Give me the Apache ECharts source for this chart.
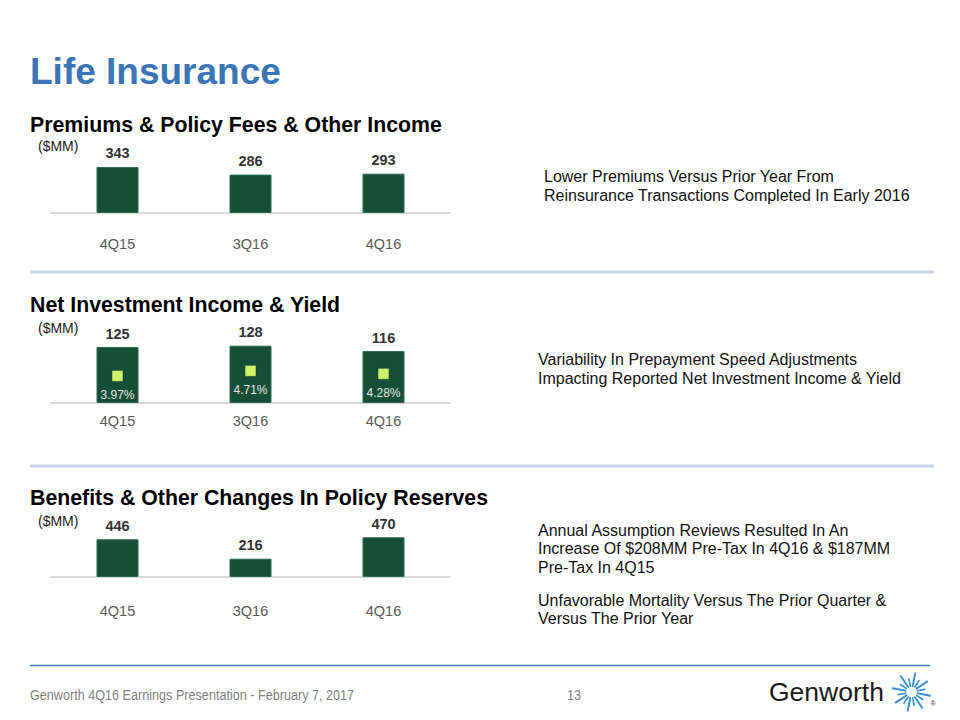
<!DOCTYPE html>
<html>
<head>
<meta charset="utf-8">
<script src="https://cdn.jsdelivr.net/npm/echarts@6/dist/echarts.min.js"></script>
<style>
html,body{margin:0;padding:0;background:#fff;}
#chart{width:960px;height:720px;}
</style>
</head>
<body>
<div id="chart"></div>
<script>
// ---- data ----
var categories = ['4Q15', '3Q16', '4Q16'];
var premiums = [343, 286, 293];
var netInvestment = [125, 128, 116];
var yields = [3.97, 4.71, 4.28];
var benefits = [446, 216, 470];

var pageTitle = 'Life Insurance';
var sectionTitles = ['Premiums & Policy Fees & Other Income', 'Net Investment Income & Yield', 'Benefits & Other Changes In Policy Reserves'];
var unitLabel = '($MM)';
var notes1 = 'Lower Premiums Versus Prior Year From\nReinsurance Transactions Completed In Early 2016';
var notes2 = 'Variability In Prepayment Speed Adjustments\nImpacting Reported Net Investment Income & Yield';
var notes3a = 'Annual Assumption Reviews Resulted In An\nIncrease Of $208MM Pre-Tax In 4Q16 & $187MM\nPre-Tax In 4Q15';
var notes3b = 'Unfavorable Mortality Versus The Prior Quarter &\nVersus The Prior Year';
var footerText = 'Genworth 4Q16 Earnings Presentation - February 7, 2017';
var pageNumber = '13';
var logoText = 'Genworth';

// ---- styles ----
var FONT = '"Liberation Sans", Arial, Helvetica, sans-serif';
var GREEN = '#164f39';
var LIME = '#d0f26a';

var chart = echarts.init(document.getElementById('chart'), null, {renderer: 'svg'});

function xAxisFor(gi, margin) {
  return {
    type: 'category', gridIndex: gi, data: categories,
    axisLine: {show: true, lineStyle: {color: '#d9d9d9', width: 2}},
    axisTick: {show: false},
    axisLabel: {color: '#595959', fontSize: 14.5, fontFamily: FONT, margin: margin}
  };
}
function yAxisFor(gi, max) {
  return {type: 'value', gridIndex: gi, min: 0, max: max, show: false, splitLine: {show: false}};
}
function barSeries(xi, yi, data) {
  return {
    type: 'bar', xAxisIndex: xi, yAxisIndex: yi, data: data, barWidth: 42,
    itemStyle: {color: GREEN, borderColor: '#2c6a50', borderWidth: 1},
    label: {show: true, position: 'top', distance: 6, color: '#333333', fontSize: 14.5, fontWeight: 'bold', fontFamily: FONT},
    silent: true, animation: false
  };
}

function txt(x, y, text, size, opts) {
  opts = opts || {};
  return {
    type: 'text', x: x, y: y, scaleX: opts.sx || 1, silent: true,
    style: {
      x: 0, y: 0,
      text: text, fill: opts.fill || '#000', fontSize: size,
      fontWeight: opts.weight || 'normal', fontFamily: opts.family || FONT,
      verticalAlign: opts.va || 'middle', align: opts.align || 'left',
      lineHeight: opts.lh || undefined
    }
  };
}

var graphics = [];
graphics.push(txt(30, 71, pageTitle, 37, {fill: '#3a75b7', weight: 'bold'}));
graphics.push(txt(30, 125, sectionTitles[0], 21.3, {weight: 'bold'}));
graphics.push(txt(30, 305, sectionTitles[1], 21.3, {weight: 'bold'}));
graphics.push(txt(30, 498, sectionTitles[2], 21.3, {weight: 'bold'}));
graphics.push(txt(38, 146, unitLabel, 14, {fill: '#1a1a1a'}));
graphics.push(txt(38, 328, unitLabel, 14, {fill: '#1a1a1a'}));
graphics.push(txt(38, 521, unitLabel, 14, {fill: '#1a1a1a'}));
graphics.push(txt(544, 167, notes1, 16, {fill: '#111', va: 'top', lh: 19}));
graphics.push(txt(538, 350.5, notes2, 16, {fill: '#111', va: 'top', lh: 18.5}));
graphics.push(txt(538, 521.5, notes3a, 16, {fill: '#111', va: 'top', lh: 18.3}));
graphics.push(txt(538, 591.5, notes3b, 16, {fill: '#111', va: 'top', lh: 18.3}));
// separators
graphics.push({type: 'line', silent: true, shape: {x1: 30, y1: 272, x2: 934, y2: 272}, style: {stroke: '#c5d1e8', lineWidth: 3}});
graphics.push({type: 'line', silent: true, shape: {x1: 30, y1: 466, x2: 934, y2: 466}, style: {stroke: '#c5d1e8', lineWidth: 3}});
graphics.push({type: 'line', silent: true, shape: {x1: 30, y1: 665.5, x2: 930, y2: 665.5}, style: {stroke: '#3f7cbf', lineWidth: 1.5}});
// footer (condensed look)
graphics.push(txt(30, 695, footerText, 15.5, {fill: '#7f7f7f', sx: 0.815}));
graphics.push(txt(567, 695, pageNumber, 15.5, {fill: '#7f7f7f', sx: 0.815}));
// logo
graphics.push(txt(769, 692, logoText, 26.5, {fill: '#1a1a1a'}));
(function () {
  var cx = 911.5, cy = 692;
  for (var i = 0; i < 16; i++) {
    var a = i * Math.PI / 8 + Math.PI / 16;
    var long = (i % 2 === 0);
    var r1 = 6, r2 = long ? 19 : 13.5;
    graphics.push({type: 'line', silent: true,
      shape: {x1: cx + r1 * Math.cos(a), y1: cy + r1 * Math.sin(a), x2: cx + r2 * Math.cos(a), y2: cy + r2 * Math.sin(a)},
      style: {stroke: '#3a8fd8', lineWidth: long ? 2 : 1.6, lineCap: 'round'}});
  }
})();
graphics.push(txt(933, 703, '®', 7, {fill: '#333', align: 'center'}));

var option = {
  animation: false,
  backgroundColor: '#ffffff',
  grid: [
    {left: 51, width: 399, top: 140, height: 73},
    {left: 51, width: 399, top: 330, height: 73},
    {left: 51, width: 399, top: 520, height: 57}
  ],
  xAxis: [xAxisFor(0, 23), xAxisFor(1, 10), xAxisFor(2, 26)],
  yAxis: [yAxisFor(0, 544), yAxisFor(1, 163), yAxisFor(1, 10.7), yAxisFor(2, 674)],
  series: [
    barSeries(0, 0, premiums),
    barSeries(1, 1, netInvestment),
    {
      type: 'line', xAxisIndex: 1, yAxisIndex: 2, data: yields,
      lineStyle: {width: 0, opacity: 0}, symbol: 'rect', symbolSize: 11,
      itemStyle: {color: LIME, borderColor: '#0f3d2b', borderWidth: 0.5},
      label: {show: true, position: 'bottom', distance: 7, color: '#e6e6e6', fontSize: 12, fontFamily: FONT,
        formatter: function (p) { return p.value.toFixed(2) + '%'; }},
      silent: true, z: 5
    },
    barSeries(2, 3, benefits)
  ],
  graphic: graphics
};
chart.setOption(option);
</script>
</body>
</html>
